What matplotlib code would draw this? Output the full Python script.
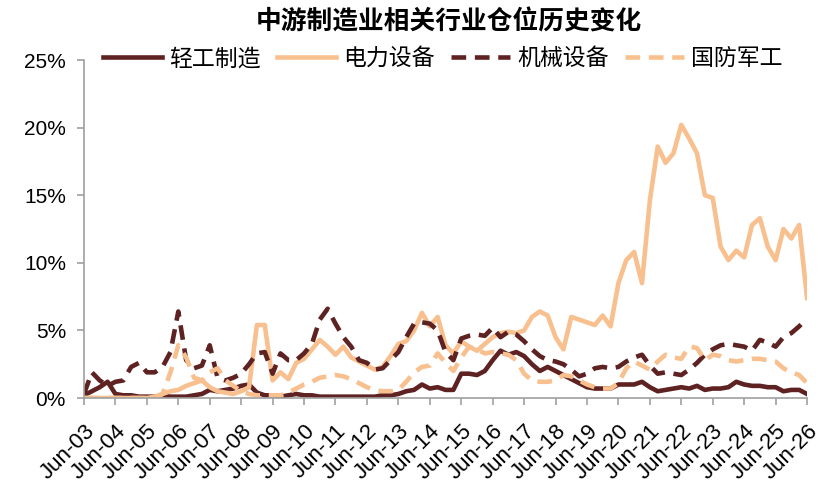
import matplotlib
matplotlib.use('Agg')
import matplotlib.pyplot as plt
from matplotlib.ticker import FuncFormatter

plt.rcParams['font.family'] = ['Liberation Sans', 'Noto Sans CJK SC', 'DejaVu Sans']

# quarterly positions (%), Jun-03 .. Jun-26
years = list(range(3, 27))
tick_labels = ['Jun-%02d' % y for y in years]

light_industry = [0.2, 0.5, 0.8, 1.2, 0.3, 0.2, 0.2, 0.1, 0.1, 0.1,
                  0.2, 0.1, 0.1, 0.1, 0.2, 0.3, 0.6, 0.5, 0.6, 0.7,
                  0.9, 1.0, 0.4, 0.2, 0.2, 0.1, 0.2, 0.3, 0.2, 0.2,
                  0.1, 0.1, 0.1, 0.1, 0.1, 0.1, 0.1, 0.1, 0.2, 0.2,
                  0.3, 0.5, 0.6, 1.0, 0.7, 0.8, 0.6, 0.6, 1.8, 1.8,
                  1.7, 2.0, 2.8, 3.5, 3.2, 3.4, 3.1, 2.5, 2.0, 2.3,
                  2.0, 1.7, 1.4, 1.1, 0.8, 0.7, 0.7, 0.7, 1.0, 1.0,
                  1.0, 1.2, 0.8, 0.5, 0.6, 0.7, 0.8, 0.7, 0.9, 0.6,
                  0.7, 0.7, 0.8, 1.2, 1.0, 0.9, 0.9, 0.8, 0.8, 0.5,
                  0.6, 0.6, 0.3]

power_equipment = [0, 0, 0, 0, 0, 0, 0, 0, 0, 0.1,
                   0.3, 0.5, 0.6, 0.9, 1.1, 1.3, 0.8, 0.5, 0.4, 0.3,
                   0.5, 0.8, 5.4, 5.4, 1.3, 1.9, 1.4, 2.6, 2.9, 3.6,
                   4.3, 3.8, 3.2, 3.8, 3.0, 2.7, 2.4, 2.1, 2.3, 3.1,
                   4.0, 4.2, 5.0, 6.3, 5.3, 6.0, 3.9, 3.3, 4.2, 3.8,
                   3.5, 4.0, 4.5, 4.8, 4.9, 4.8, 5.0, 6.0, 6.4, 6.1,
                   4.5, 3.6, 6.0, 5.8, 5.6, 5.4, 6.1, 5.3, 8.5, 10.2,
                   10.8, 8.5, 14.6, 18.6, 17.4, 18.1, 20.2, 19.2, 18.1, 15.0,
                   14.8, 11.2, 10.2, 10.9, 10.4, 12.8, 13.3, 11.2, 10.2, 12.5,
                   11.8, 12.8, 7.4]

machinery = [0.3, 1.9, 1.3, 0.9, 1.2, 1.3, 2.3, 2.6, 1.9, 1.9,
             2.3, 3.4, 6.4, 2.8, 2.2, 2.4, 3.9, 1.5, 1.3, 1.5,
             1.8, 2.5, 3.3, 3.4, 1.8, 3.3, 2.8, 2.8, 3.3, 4.0,
             5.8, 6.6, 5.5, 4.5, 3.8, 2.8, 2.6, 2.1, 2.2, 2.8,
             3.4, 4.5, 5.5, 5.6, 5.5, 5.0, 3.4, 2.8, 4.4, 4.6,
             4.7, 4.6, 5.2, 4.5, 4.9, 4.7, 4.2, 3.6, 3.1, 2.8,
             2.7, 2.5, 2.1, 1.6, 1.8, 2.2, 2.3, 2.2, 2.3, 2.7,
             3.0, 3.2, 2.4, 1.8, 1.9, 1.8, 1.7, 2.1, 2.6, 3.2,
             3.6, 3.9, 4.0, 3.9, 3.8, 3.5, 4.3, 4.1, 3.8, 4.5,
             4.8, 5.3, 5.9]

defense = [0, 0, 0, 0, 0, 0, 0, 0, 0, 0,
           0.3, 1.9, 3.9, 3.0, 1.5, 1.3, 1.9, 2.2, 1.3, 0.9,
           0.5, 0.3, 0.2, 0.2, 0.2, 0.2, 0.4, 0.7, 1.0, 1.2,
           1.5, 1.6, 1.7, 1.6, 1.4, 1.1, 0.8, 0.6, 0.5, 0.5,
           0.6, 1.2, 1.9, 2.3, 2.4, 3.3, 2.6, 2.0, 3.0, 3.8,
           3.6, 3.3, 3.4, 3.3, 3.2, 2.8, 1.8, 1.3, 1.2, 1.2,
           1.3, 1.7, 1.6, 1.3, 1.0, 0.8, 0.7, 0.7, 1.1, 2.2,
           2.7, 2.4, 2.1, 2.7, 3.2, 3.0, 2.9, 3.8, 3.7, 2.8,
           3.2, 3.1, 2.8, 2.7, 2.8, 2.9, 2.9, 2.8, 2.7, 2.2,
           1.9, 1.7, 1.1]

dark = '#5E2222'
light = '#F8C08F'
x = list(range(len(light_industry)))

fig = plt.figure(figsize=(8.35, 4.94), dpi=100)
ax = fig.add_axes([0.1006, 0.1943, 0.8659, 0.6842])

lw = 3.3
ax.plot(x, light_industry, color=dark, lw=lw, label='轻工制造')
ax.plot(x, power_equipment, color=light, lw=lw, label='电力设备')
ax.plot(x, machinery, color=dark, lw=lw, dashes=(3.2, 1.9), label='机械设备')
ax.plot(x, defense, color=light, lw=lw, dashes=(3.2, 1.9), label='国防军工')

ax.set_xlim(0, len(x) - 1)
ax.set_ylim(0, 25)
ax.set_yticks([0, 5, 10, 15, 20, 25])
ax.yaxis.set_major_formatter(FuncFormatter(lambda v, p: '%d%%' % v))
ax.set_xticks(range(0, len(x), 4))
ax.set_xticklabels(tick_labels, rotation=45, ha='right', rotation_mode='anchor')

for s in ['top', 'right']:
    ax.spines[s].set_visible(False)
for s in ['left', 'bottom']:
    ax.spines[s].set_color('#A0A0A0')
    ax.spines[s].set_linewidth(1.2)
ax.tick_params(axis='both', colors='#A0A0A0', labelcolor='black', width=1.2, length=5)
ax.tick_params(axis='y', labelsize=15, pad=8)
ax.tick_params(axis='x', labelsize=16, pad=11)

leg = ax.legend(loc='center', bbox_to_anchor=(0.496, 1.004), ncol=4, frameon=False,
                fontsize=16.5, handlelength=2.6, handletextpad=0.3, columnspacing=0.7)

fig.text(0.538, 0.955, '中游制造业相关行业仓位历史变化', ha='center', va='center',
         fontsize=18.5, fontweight='bold')

fig.savefig('out.png', dpi=100)
